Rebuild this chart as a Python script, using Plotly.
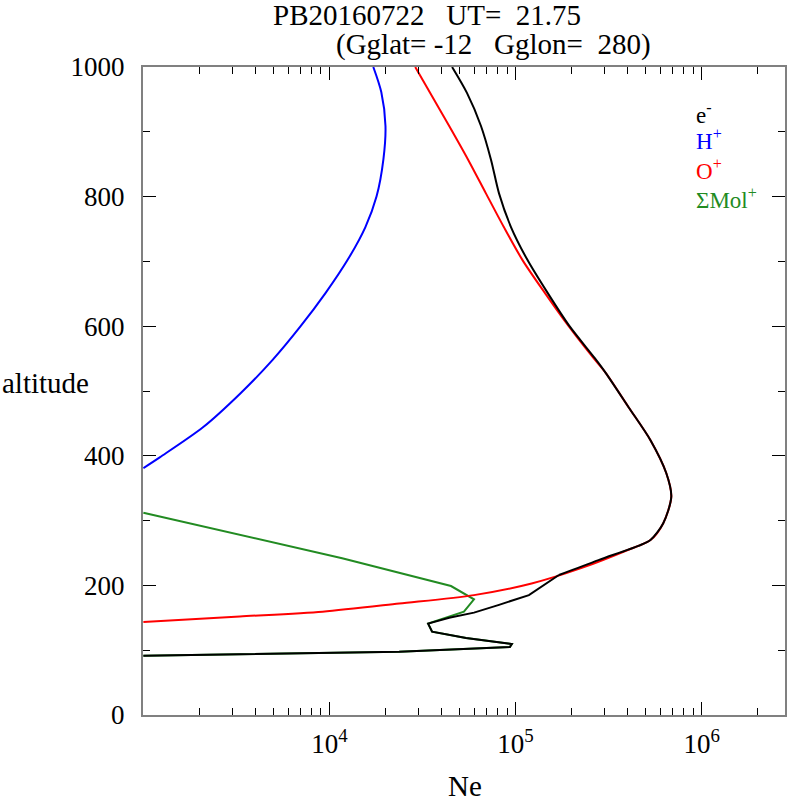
import plotly.graph_objects as go

# altitude profiles (Ne in cm^-3, altitude in km)
h_alt = [1000, 961, 909, 858, 800, 753, 702, 651, 600, 548, 497, 444, 398, 381]
h_ne = [1.72e4, 1.90e4, 2.0e4, 1.95e4, 1.79e4, 1.56e4, 1.25e4, 9.52e3, 7.0e3,
        4.95e3, 3.34e3, 2.09e3, 1.23e3, 1.0e3]

o_alt = [1000, 909, 857, 805, 753, 702, 651, 600, 551, 528, 475, 424, 373, 337,
         296, 270, 255, 227, 203, 185, 172, 159.5, 152, 143.5]
o_ne = [2.89e4, 4.4e4, 5.56e4, 6.93e4, 8.65e4, 1.09e5, 1.44e5, 1.93e5, 2.62e5,
        3.05e5, 4.05e5, 5.31e5, 6.46e5, 6.87e5, 6.22e5, 5.31e5, 4.04e5, 2.27e5,
        1.22e5, 5.98e4, 2.37e4, 9.18e3, 3.30e3, 1.0e3]

# electrons: smooth upper profile, then the jagged E-region part
e_alt_top = [1000, 960, 909, 857, 805, 753, 702, 651, 600, 551, 528, 475, 424,
             373, 337, 296, 270, 261, 239, 216]
e_ne_top = [4.56e4, 5.48e4, 6.52e4, 7.38e4, 8.15e4, 9.45e4, 1.16e5, 1.49e5,
            1.95e5, 2.66e5, 3.05e5, 4.05e5, 5.31e5, 6.46e5, 6.87e5, 6.22e5,
            5.31e5, 4.57e5, 2.79e5, 1.71e5]
e_alt_low = [216, 185, 170, 158, 150, 141, 128.5, 119, 109.5, 105, 97.7, 91.5]
e_ne_low = [1.71e5, 1.18e5, 8.15e4, 5.98e4, 4.40e4, 3.39e4, 3.56e4, 5.42e4,
            9.55e4, 9.32e4, 2.37e4, 1.0e3]

mol_alt = [312, 242, 199, 178.5, 159.5, 141, 128.5, 119, 109.5, 105, 97.7, 91.5]
mol_ne = [1.0e3, 1.17e4, 4.5e4, 5.98e4, 5.28e4, 3.39e4, 3.56e4, 5.42e4, 9.55e4,
          9.32e4, 2.37e4, 1.0e3]

x_ticks = [1e4, 1e5, 1e6]
x_labels = ["10<sup>4</sup>", "10<sup>5</sup>", "10<sup>6</sup>"]
y_ticks = [0, 200, 400, 600, 800, 1000]

GREEN = "#228b22"
FONT = "Liberation Serif"

fig = go.Figure()
fig.add_trace(go.Scatter(x=mol_ne, y=mol_alt, mode="lines",
                         line=dict(color=GREEN, width=2)))
fig.add_trace(go.Scatter(x=h_ne, y=h_alt, mode="lines",
                         line=dict(color="blue", width=2, shape="spline", smoothing=0.8)))
fig.add_trace(go.Scatter(x=o_ne, y=o_alt, mode="lines",
                         line=dict(color="red", width=2, shape="spline", smoothing=0.8)))
fig.add_trace(go.Scatter(x=e_ne_top, y=e_alt_top, mode="lines",
                         line=dict(color="black", width=2, shape="spline", smoothing=0.8)))
fig.add_trace(go.Scatter(x=e_ne_low, y=e_alt_low, mode="lines",
                         line=dict(color="black", width=2)))

fig.update_xaxes(
    type="log", range=[2.998, 6.448],
    tickmode="array", tickvals=x_ticks, ticktext=x_labels,
    ticks="inside", ticklen=13, tickcolor="black", tickwidth=1,
    minor=dict(ticks="inside", ticklen=7, tickcolor="black", dtick="D1"),
    showline=True, linecolor="gray", linewidth=2, mirror="allticks",
    showgrid=False, zeroline=False, ticklabelstandoff=4,
    tickfont=dict(family=FONT, size=27, color="black"),
)
fig.update_yaxes(
    range=[0, 1000], tickmode="array", tickvals=y_ticks,
    ticks="inside", ticklen=13, tickcolor="black", tickwidth=1,
    minor=dict(ticks="inside", ticklen=7, tickcolor="black", dtick=100),
    showline=True, linecolor="gray", linewidth=2, mirror="allticks",
    showgrid=False, zeroline=False, ticklabelstandoff=11,
    tickfont=dict(family=FONT, size=27, color="black"),
)

notes = [
    ("PB20160722   UT=  21.75", 0.443, 1.081, "center", 29, "black"),
    ("(Gglat= -12   Gglon=  280)", 0.5466, 1.034, "center", 29, "black"),
    ("altitude", -0.222, 0.512, "left", 29, "black"),
    ("Ne", 0.5016, -0.1096, "center", 29, "black"),
    ("e<sup>-</sup>", 0.858, 0.928, "left", 23, "black"),
    ("H<sup>+</sup>", 0.858, 0.888, "left", 23, "blue"),
    ("O<sup>+</sup>", 0.858, 0.842, "left", 23, "red"),
    ("ΣMol<sup>+</sup>", 0.858, 0.797, "left", 23, GREEN),
]
for text, x, y, anchor, size, color in notes:
    fig.add_annotation(text=text, x=x, y=y, xref="paper", yref="paper",
                       xanchor=anchor, yanchor="middle", showarrow=False,
                       font=dict(family=FONT, size=size, color=color))

fig.update_layout(
    width=792, height=796, showlegend=False,
    margin=dict(l=143, r=5, t=67, b=81),
    plot_bgcolor="white", paper_bgcolor="white",
)

fig.write_html("out.html", config={"displayModeBar": False},
               post_script="document.body.style.margin='0px';")
